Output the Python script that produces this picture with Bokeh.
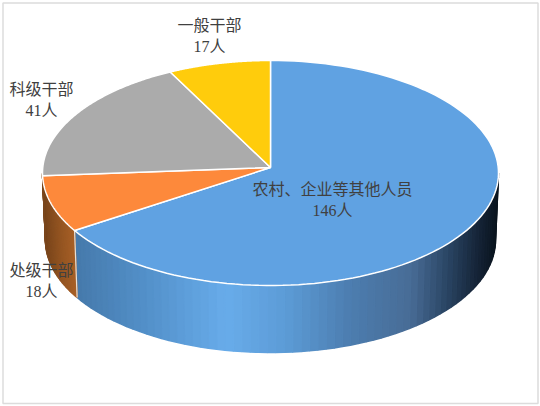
import numpy as np
from bokeh.plotting import figure
from bokeh.models import Range1d
from bokeh.core.properties import value
from bokeh.embed import file_html
from bokeh.resources import INLINE

categories = ["农村、企业等其他人员", "处级干部", "科级干部", "一般干部"]
people = [146, 18, 41, 17]
top_colors = ["#60a2e2", "#fd893b", "#ababab", "#ffcc0c"]
label_x = [332, 41, 41, 209]
label_y = [199.5, 280.5, 99.5, 35.5]

W, H = 540, 406
CX, CY, A, B = 270, 172.5, 228, 112.5
APEX_Y = 167
BOT_CX, BOT_CY, BOT_A, BOT_B = 270, 239.5, 225, 112.5
# small angular correction for the 3-D perspective of the pie
PERSP_DEG = [0, 90, 237, 266, 332, 360]
PERSP_SHIFT = [0, 0, 2.5, 2.7, 1.5, 0]

p = figure(width=W, height=H, x_range=Range1d(0, W), y_range=Range1d(H, 0),
           output_backend="svg", toolbar_location=None, min_border=0,
           outline_line_color=None, background_fill_color="white",
           border_fill_color="white")
p.axis.visible = False
p.grid.visible = False
p.styles = {"position": "absolute", "left": "0px", "top": "0px"}

# chart frame
p.quad(left=[2.5], right=[537.5], top=[2.5], bottom=[403], fill_color=None,
       line_color="#dcdcdc", line_width=1.5)


def rim(t, cx=CX, cy=CY, a=A, b=B):
    return cx + a * np.sin(t), cy - b * np.cos(t)


def mix(stops, u):
    xs = [s[0] for s in stops]
    rgb = [np.interp(u, xs, [s[1][i] for s in stops]) for i in range(3)]
    return "#%02x%02x%02x" % tuple(int(round(c)) for c in rgb)


blue_stops = [(76, (70, 122, 172)), (150, (84, 146, 204)), (225, (104, 172, 234)),
              (285, (92, 155, 214)), (350, (76, 125, 175)), (410, (72, 108, 150)),
              (450, (40, 66, 96)), (480, (20, 34, 52)), (497, (10, 20, 30))]
orange_stops = [(43, (122, 70, 28)), (60, (150, 86, 34)), (76, (172, 98, 40))]

deg = np.cumsum([0] + people) / sum(people) * 360
edges = np.radians(deg + np.interp(deg, PERSP_DEG, PERSP_SHIFT))

# side walls: gradient strips following the visible front of the pie
walls = [(np.pi / 2, edges[1], blue_stops), (edges[1], 1.5 * np.pi, orange_stops)]
for t0, t1, stops in walls:
    ts = np.linspace(t0, t1, 70)
    for a0, a1 in zip(ts[:-1], ts[1:]):
        x0, y0 = rim(a0)
        x1, y1 = rim(a1)
        x2, y2 = rim(a1, BOT_CX, BOT_CY, BOT_A, BOT_B)
        x3, y3 = rim(a0, BOT_CX, BOT_CY, BOT_A, BOT_B)
        c = mix(stops, (x0 + x1) / 2)
        p.patch([x0, x1, x2, x3], [y0, y1, y2, y3], fill_color=c, line_color=c, line_width=1.5)

# light seam between blue and orange walls
sx0, sy0 = rim(edges[1])
sx1, sy1 = rim(edges[1], BOT_CX, BOT_CY, BOT_A, BOT_B)
p.line([sx0, sx1], [sy0, sy1], line_color="#e6e0d8", line_width=1.2)

# top surface
for i, c in enumerate(top_colors):
    ts = np.linspace(edges[i], edges[i + 1], 120)
    xs, ys = rim(ts)
    p.patch([CX, *xs], [APEX_Y, *ys], fill_color=c, line_color="white", line_width=1.5)

p.text(x=label_x, y=label_y,
       text=[f"{c}\n{n}人" for c, n in zip(categories, people)],
       text_font=value("'Liberation Serif', 'Noto Sans CJK SC'"),
       text_font_size="16px", text_color="#404040",
       text_align="center", text_baseline="middle", text_line_height=1.2)

open("out.html", "w").write(file_html(p, INLINE))
